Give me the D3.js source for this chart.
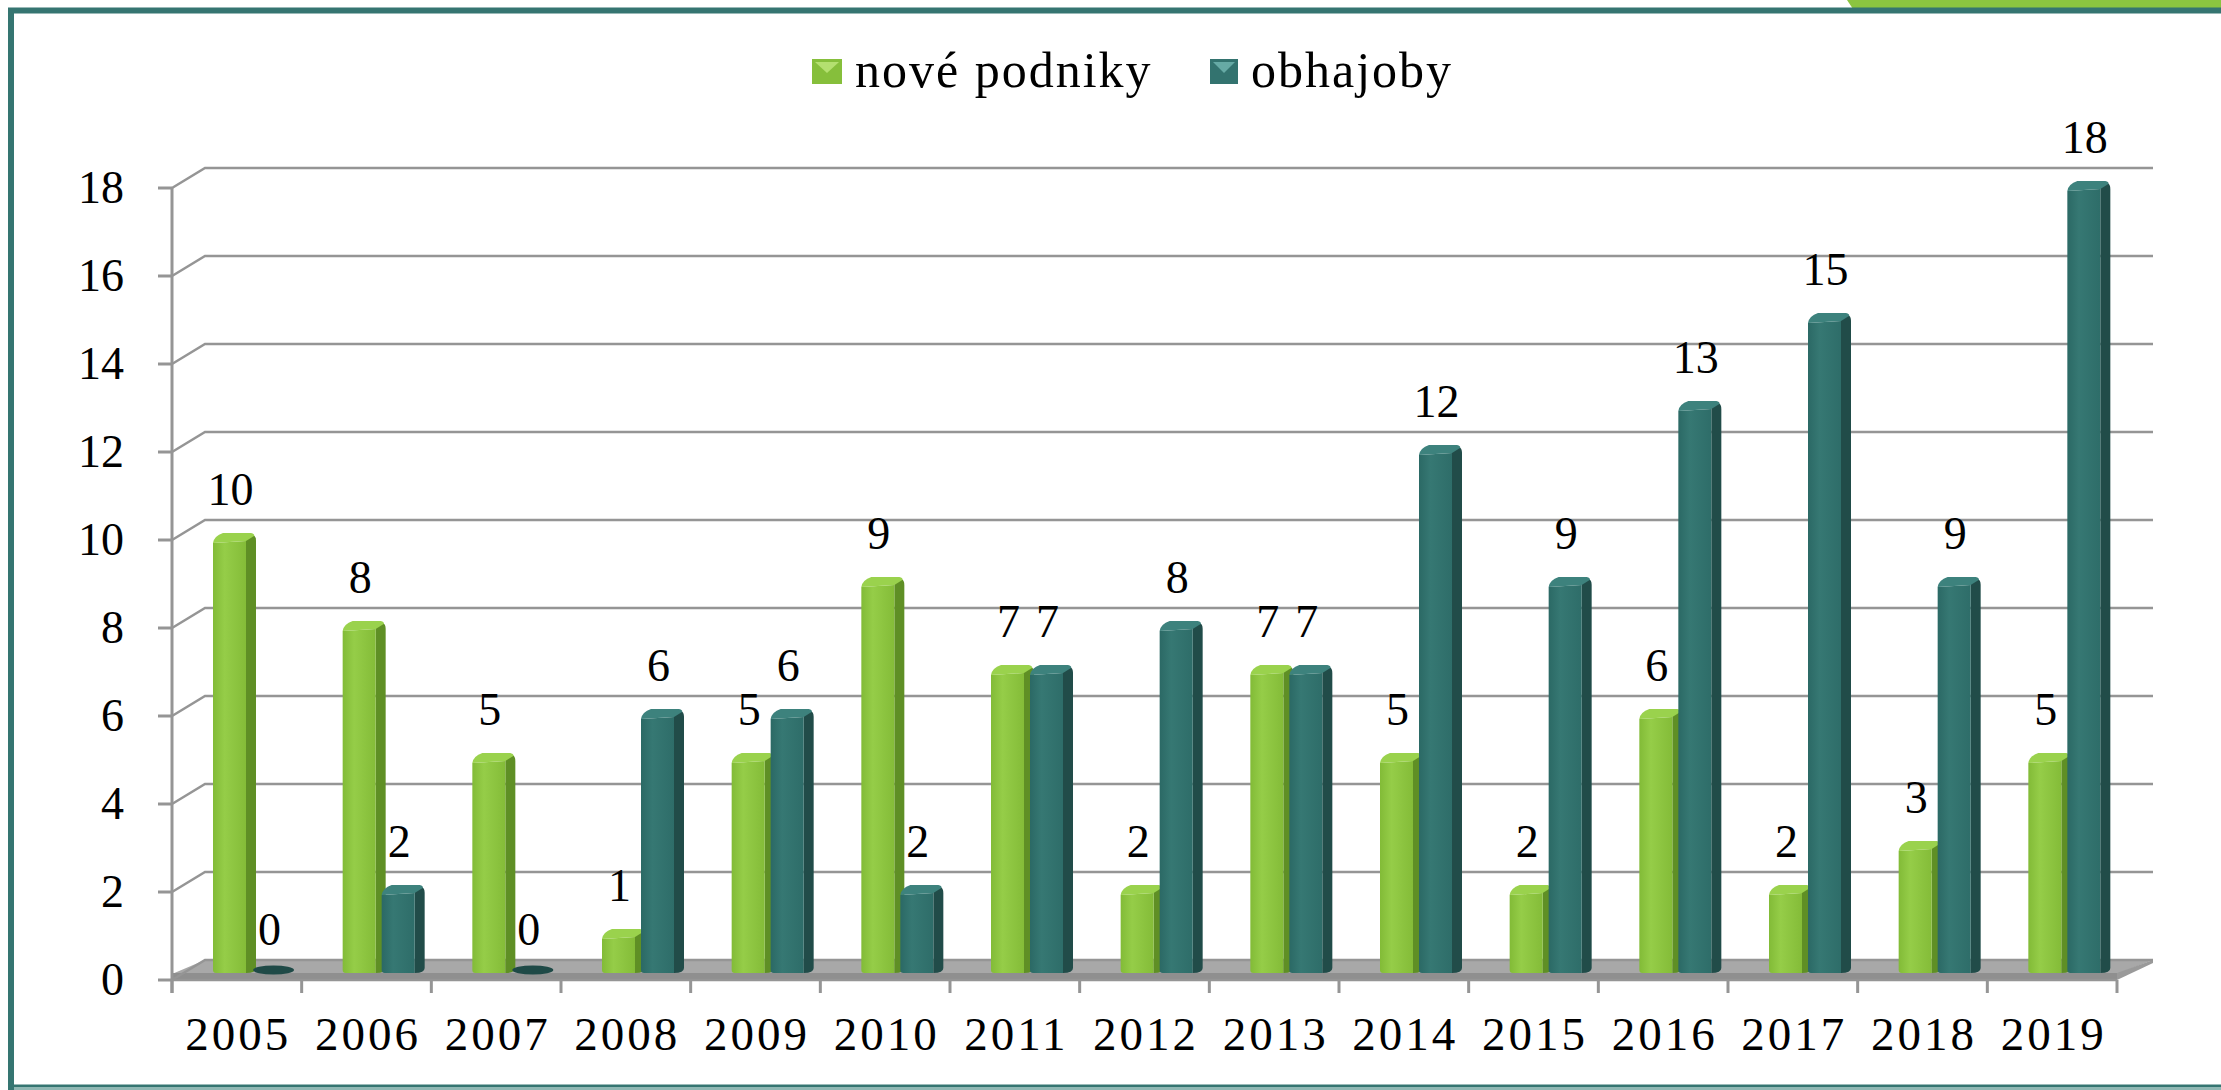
<!DOCTYPE html>
<html>
<head>
<meta charset="utf-8">
<script src="https://cdn.jsdelivr.net/npm/d3@7"></script>
<style>
  html,body{margin:0;padding:0;background:#fff;}
  svg{display:block;}
  text{font-family:"Liberation Serif","Times New Roman",serif;fill:#000;}
</style>
</head>
<body>
<svg width="2221" height="1090"></svg>
<script>
// data
var years = ["2005","2006","2007","2008","2009","2010","2011","2012","2013","2014","2015","2016","2017","2018","2019"];
var novePodniky = [10,8,5,1,5,9,7,2,7,5,2,6,2,3,5];
var obhajoby = [0,2,0,6,6,2,7,8,7,12,9,13,15,9,18];
var seriesNames = ["nové podniky","obhajoby"];
var yTicks = [0,2,4,6,8,10,12,14,16,18];

var svg = d3.select("svg");
var width = +svg.attr("width");
var height = +svg.attr("height");

var plot = {left:172, right:2117, bottom:980, top:188};
var depth = {x:33, y:-20};   // back wall offset (3d look)
var barOff = {x:16, y:-7};   // bars stand in the middle of the floor

var xScale = d3.scaleBand().domain(years).range([plot.left,plot.right]);
var yScale = d3.scaleLinear().domain([0,18]).range([plot.bottom,plot.top]);

// gradients
var defs = svg.append("defs");
function hGrad(id, stops){
    var g = defs.append("linearGradient").attr("id",id).attr("x1","0").attr("x2","1").attr("y1","0").attr("y2","0");
    stops.forEach(s => g.append("stop").attr("offset",s[0]).attr("stop-color",s[1]));
}
hGrad("gFront",[[0,"#82bb37"],[0.35,"#95cd48"],[1,"#84bc38"]]);
hGrad("tFront",[[0,"#2b6965"],[0.35,"#367873"],[1,"#2e6d69"]]);

// frame
svg.append("polygon")
    .attr("points","1847,0 2221,0 2221,9 1853,9")
    .attr("fill","#8bc540");
svg.append("rect")
    .attr("x",11).attr("y",10.5).attr("width",2400).attr("height",1077)
    .attr("fill","none").attr("stroke","#357571").attr("stroke-width",6);
svg.append("line")
    .attr("x1",14).attr("x2",width).attr("y1",1088.5).attr("y2",1088.5)
    .attr("stroke","#8fb7b3").attr("stroke-width",3);

var g = svg.append("g");

// floor
var L = plot.left, R = plot.right, B = plot.bottom;
g.append("polygon")
    .attr("points",[[L,B-6],[L+depth.x,B+depth.y],[R+depth.x+3,B+depth.y],[R,B-6]].join(" "))
    .attr("fill","#a8a8a8");
g.append("rect")
    .attr("x",L).attr("y",B-7).attr("width",R-L).attr("height",7)
    .attr("fill","#8f8f8f");
g.append("polygon")
    .attr("points",[[R,B-7],[R+depth.x+3,B+depth.y],[R+depth.x+3,B+depth.y+3],[R,B]].join(" "))
    .attr("fill","#9a9a9a");

// gridlines on the back wall + side wall
g.selectAll(".grid")
    .data(yTicks)
    .enter()
    .append("path")
    .attr("d",d=>{
        var y = yScale(d);
        return "M"+L+","+y+" L"+(L+depth.x)+","+(y+depth.y)+" L"+(R+depth.x+3)+","+(y+depth.y);
    })
    .attr("fill","none")
    .attr("stroke","#959595")
    .attr("stroke-width",2.5);

// y axis
g.append("line")
    .attr("x1",L).attr("x2",L).attr("y1",plot.top).attr("y2",B+13)
    .attr("stroke","#959595").attr("stroke-width",3);
g.selectAll(".ytick")
    .data(yTicks)
    .enter()
    .append("line")
    .attr("x1",L-14).attr("x2",L)
    .attr("y1",d=>yScale(d)).attr("y2",d=>yScale(d))
    .attr("stroke","#959595").attr("stroke-width",3);
g.selectAll(".ylab")
    .data(yTicks)
    .enter()
    .append("text")
    .attr("x",124)
    .attr("y",d=>yScale(d)+15)
    .attr("text-anchor","end")
    .style("font-size","46px")
    .text(d=>d);

// x axis ticks + labels
var xTickPos = years.map(d=>xScale(d)).concat([R]);
g.append("line")
    .attr("x1",L).attr("x2",R).attr("y1",B).attr("y2",B)
    .attr("stroke","#959595").attr("stroke-width",2.5);
g.selectAll(".xtick")
    .data(xTickPos)
    .enter()
    .append("line")
    .attr("x1",d=>d).attr("x2",d=>d)
    .attr("y1",B).attr("y2",B+13)
    .attr("stroke","#959595").attr("stroke-width",3);
g.selectAll(".xlab")
    .data(years)
    .enter()
    .append("text")
    .attr("x",d=>xScale(d)+xScale.bandwidth()/2+1.5)
    .attr("y",1050)
    .attr("text-anchor","middle")
    .style("font-size","47px")
    .style("letter-spacing","3px")
    .text(d=>d);

// bars
var barW = 43;
var series = [
    {vals:novePodniky, dx:25, front:"url(#gFront)", side:"#5f8f25", cap:"#9ad24d", flat:"#5f8f25"},
    {vals:obhajoby, dx:64, front:"url(#tFront)", side:"#214c49", cap:"#3d827d", flat:"#1f4a47"}
];
var base = yScale(0)+barOff.y;
series.forEach(s=>{
    var gs = g.selectAll(null)
        .data(s.vals.map((v,i)=>({v:v,year:years[i]})))
        .enter()
        .append("g");
    gs.each(function(d){
        var sel = d3.select(this);
        var x0 = xScale(d.year)+barOff.x+s.dx;
        var t = yScale(d.v)+barOff.y;
        if(d.v===0){//零值 扁平椭圆
            sel.append("ellipse")
                .attr("cx",x0+barW/2).attr("cy",base-3)
                .attr("rx",barW/2-1).attr("ry",4.5)
                .attr("fill",s.flat);
            return;
        }
        var sw = 10;
        sel.append("path")//侧面
            .attr("d","M"+(x0+barW-sw)+","+(t+4)+" L"+(x0+barW-3)+","+(t+2)+" Q"+(x0+barW)+","+(t+3)+" "+(x0+barW)+","+(t+8)
                +" L"+(x0+barW)+","+(base-5)+" Q"+(x0+barW)+","+base+" "+(x0+barW-sw)+","+base+" Z")
            .attr("fill",s.side);
        sel.append("path")//正面
            .attr("d","M"+x0+","+(t+10)+" L"+(x0+barW-sw)+","+(t+8)+" L"+(x0+barW-sw)+","+base
                +" L"+(x0+3)+","+base+" Q"+x0+","+base+" "+x0+","+(base-3)+" Z")
            .attr("fill",s.front);
        sel.append("path")//顶面
            .attr("d","M"+x0+","+(t+10)+" Q"+(x0+1)+","+(t+3)+" "+(x0+10)+","+t
                +" L"+(x0+barW-5)+","+t+" Q"+(x0+barW-1)+","+(t+1)+" "+(x0+barW-2)+","+(t+3)
                +" L"+(x0+barW-sw)+","+(t+8)+" Z")
            .attr("fill",s.cap);
    });
    //数值标签
    gs.append("text")
        .attr("x",(d)=>xScale(d.year)+barOff.x+s.dx+barW/2-4)
        .attr("y",d=>yScale(d.v)+barOff.y-28)
        .attr("text-anchor","middle")
        .style("font-size","46px")
        .text(d=>d.v);
});

// legend
var legendItems = [
    {name:seriesNames[0], x:812, w:30, col:"#86bf3b", hi:"#b4e070"},
    {name:seriesNames[1], x:1210, w:28, col:"#33736f", hi:"#66aaa5"}
];
var lg = svg.selectAll(".legend")
    .data(legendItems)
    .enter()
    .append("g");
lg.append("rect")
    .attr("x",d=>d.x).attr("y",59).attr("width",d=>d.w).attr("height",25)
    .attr("fill",d=>d.col);
lg.append("polygon")
    .attr("points",d=>[[d.x+3,62],[d.x+d.w-3,62],[d.x+d.w/2,73]].join(" "))
    .attr("fill",d=>d.hi);
lg.append("text")
    .attr("x",d=>d.x+d.w+13)
    .attr("y",87)
    .style("font-size","50px")
    .style("letter-spacing","2px")
    .text(d=>d.name);
</script>
</body>
</html>
